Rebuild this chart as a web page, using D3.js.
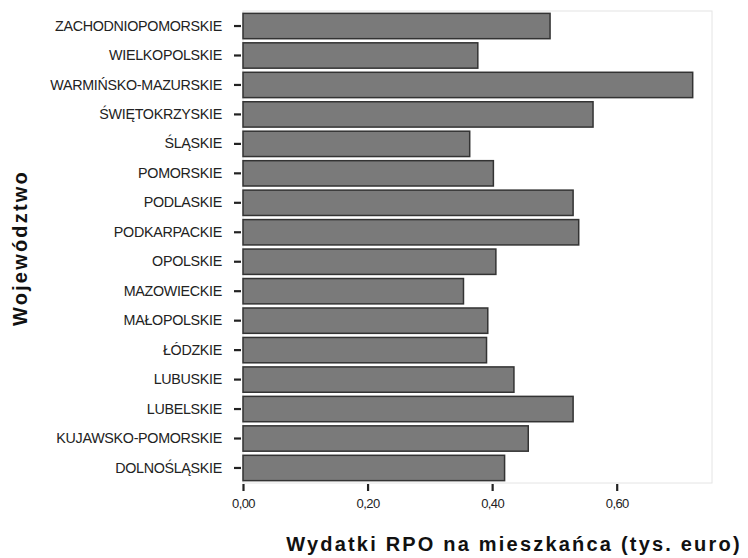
<!DOCTYPE html>
<html>
<head>
<meta charset="utf-8">
<script src="https://cdn.jsdelivr.net/npm/d3@7"></script>
<style>
body { margin: 0; background: #fff; }
</style>
</head>
<body>
<script>
var svgWidth = 748;
var svgHeight = 558;

// wojewodztwa, od gory do dolu
var wojewodztwa = [
    "ZACHODNIOPOMORSKIE", "WIELKOPOLSKIE", "WARMIŃSKO-MAZURSKIE", "ŚWIĘTOKRZYSKIE",
    "ŚLĄSKIE", "POMORSKIE", "PODLASKIE", "PODKARPACKIE", "OPOLSKIE", "MAZOWIECKIE",
    "MAŁOPOLSKIE", "ŁÓDZKIE", "LUBUSKIE", "LUBELSKIE", "KUJAWSKO-POMORSKIE", "DOLNOŚLĄSKIE"
];
var wydatki = [
    0.493, 0.377, 0.722, 0.562,
    0.364, 0.402, 0.530, 0.539, 0.406, 0.354,
    0.393, 0.391, 0.435, 0.530, 0.458, 0.420
];
var xTicks = [0, 0.2, 0.4, 0.6];
var xTickLabels = ["0,00", "0,20", "0,40", "0,60"];

var margin = { top: 11, right: 36, bottom: 75, left: 243 };
var w = svgWidth - margin.left - margin.right;
var h = svgHeight - margin.top - margin.bottom;

var svg = d3.select("body")
    .append("svg")
    .attr("width", svgWidth)
    .attr("height", svgHeight);

var g = svg.append("g")
    .attr("transform", "translate(" + margin.left + "," + margin.top + ")");

var x = d3.scaleLinear()
    .domain([0, 0.753])
    .range([0, w]);

var y = d3.scaleBand()
    .domain(wojewodztwa)
    .range([0, h])
    .paddingInner(0.14)
    .paddingOuter(0.08);

// ramka obszaru wykresu
g.append("rect")
    .attr("x", 0)
    .attr("y", 0)
    .attr("width", w)
    .attr("height", h)
    .attr("fill", "none")
    .attr("stroke", "#e4e4e4")
    .attr("stroke-width", 1);

g.selectAll("rect.bar")
    .data(wojewodztwa)
    .enter()
    .append("rect")
    .attr("class", "bar")
    .attr("x", x(0))
    .attr("y", function (d) { return y(d); })
    .attr("width", function (d, i) { return x(wydatki[i]) - x(0); })
    .attr("height", y.bandwidth())
    .attr("fill", "#7a7a7a")
    .attr("stroke", "#333")
    .attr("stroke-width", 1.5);

var yAxis = g.append("g")
    .attr("transform", "translate(-2,0)")
    .call(d3.axisLeft(y).tickSize(7).tickPadding(12));
yAxis.select(".domain").remove();
yAxis.selectAll(".tick line")
    .attr("stroke", "#222")
    .attr("stroke-width", 2.2);
yAxis.selectAll(".tick text")
    .attr("font-family", "Liberation Sans, Arial, sans-serif")
    .attr("font-size", "14.3px")
    .attr("letter-spacing", "-0.3px")
    .attr("fill", "#222");

var xAxis = g.append("g")
    .attr("transform", "translate(0," + (h + 1) + ")")
    .call(d3.axisBottom(x)
        .tickValues(xTicks)
        .tickSize(7)
        .tickPadding(8)
        .tickFormat(function (d, i) { return xTickLabels[i]; }));
xAxis.select(".domain").remove();
xAxis.selectAll(".tick line")
    .attr("stroke", "#222")
    .attr("stroke-width", 2.2);
xAxis.selectAll(".tick text")
    .attr("font-family", "Liberation Sans, Arial, sans-serif")
    .attr("font-size", "13px")
    .attr("letter-spacing", "-0.6px")
    .attr("fill", "#222");

svg.append("text")
    .attr("x", 514)
    .attr("y", 551)
    .attr("text-anchor", "middle")
    .attr("font-family", "Liberation Sans, Arial, sans-serif")
    .attr("font-weight", "bold")
    .attr("font-size", "20px")
    .attr("letter-spacing", "2.2px")
    .attr("fill", "#111")
    .text("Wydatki RPO na mieszkańca (tys. euro)");

svg.append("text")
    .attr("transform", "translate(27,248) rotate(-90)")
    .attr("text-anchor", "middle")
    .attr("font-family", "Liberation Sans, Arial, sans-serif")
    .attr("font-weight", "bold")
    .attr("font-size", "20px")
    .attr("letter-spacing", "2.2px")
    .attr("fill", "#111")
    .text("Województwo");
</script>
</body>
</html>
